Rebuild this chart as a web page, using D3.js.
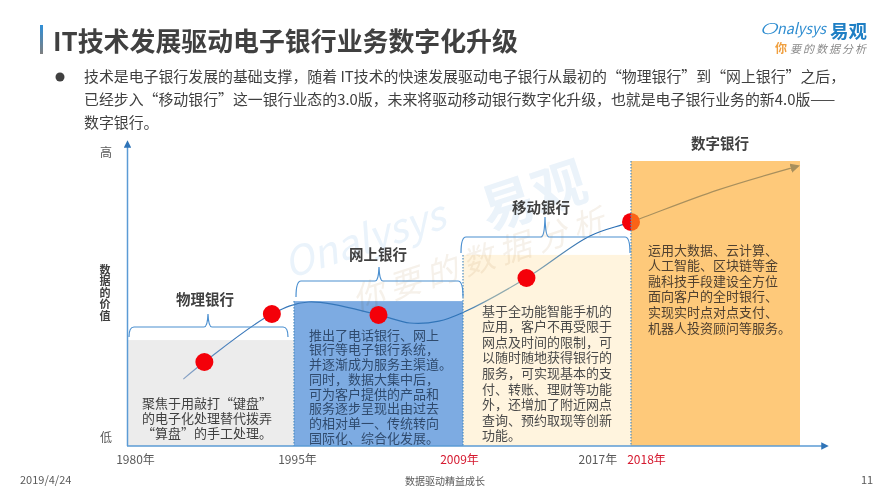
<!DOCTYPE html>
<html>
<head>
  <meta charset="utf-8">
  <title>IT技术发展驱动电子银行业务数字化升级</title>
  <script src="https://d3js.org/d3.v7.min.js"></script>
  <style>
    html, body { margin: 0; padding: 0; background: #fff; }
    svg { display: block; }
    text { font-family: "Noto Sans CJK SC", "Noto Sans", sans-serif; }
  </style>
</head>
<body>
<svg width="889" height="500"></svg>
<script>
  // chart values
  const stageNames = ["物理银行", "网上银行", "移动银行", "数字银行"];
  const stageEdges = [1980, 1995, 2009, 2018, 2027];
  const stageTops = [35.3, 48.3, 63.7, 95];
  const stageColors = ["#ececec", "#7dabe2", "#fff4de", "#fda522"];

  const tickYears = [1980, 1995, 2009, 2017, 2018];
  const tickLabels = ["1980年", "1995年", "2009年", "2017年", "2018年"];
  const tickColors = ["#595959", "#595959", "#d5182e", "#595959", "#d5182e"];
  const tickNudge = [7, 3, -4, -15, 15];

  const curveYears = [1985, 1986.9, 1993, 1996.2, 2002, 2004.6, 2007, 2009, 2012.4, 2015.8, 2018, 2022.6, 2026.9];
  const curveValues = [22.3, 28, 44, 48, 43.7, 41, 41.6, 44.5, 56, 70, 74.7, 85.3, 93.3];
  const dotYears = [1986.9, 1993, 2002, 2012.4, 2018];
  const dotValues = [28, 44, 43.7, 56, 74.7];

  const levelValues = [2.7, 97.7];
  const levelLabels = ["低", "高"];

  const headline = "IT技术发展驱动电子银行业务数字化升级";
  const intro = [
    "技术是电子银行发展的基础支撑，随着 IT技术的快速发展驱动电子银行从最初的“物理银行”到“网上银行”之后，",
    "已经步入“移动银行”这一银行业态的3.0版，未来将驱动移动银行数字化升级，也就是电子银行业务的新4.0版——",
    "数字银行。"
  ];
  const notes = [
    ["聚焦于用敲打“键盘”", "的电子化处理替代拨弄", "“算盘”的手工处理。"],
    ["推出了电话银行、网上", "银行等电子银行系统，", "并逐渐成为服务主渠道。", "同时，数据大集中后，", "可为客户提供的产品和", "服务逐步呈现出由过去", "的相对单一、传统转向", "国际化、综合化发展。"],
    ["基于全功能智能手机的", "应用，客户不再受限于", "网点及时间的限制，可", "以随时随地获得银行的", "服务，可实现基本的支", "付、转账、理财等功能", "外，还增加了附近网点", "查询、预约取现等创新", "功能。"],
    ["运用大数据、云计算、", "人工智能、区块链等金", "融科技手段建设全方位", "面向客户的全时银行、", "实现实时点对点支付、", "机器人投资顾问等服务。"]
  ];

  const svg = d3.select("svg");
  const defs = svg.append("defs");

  const x = d3.scaleLinear().domain(stageEdges).range([128, 294, 463, 631, 800]);
  const y = d3.scaleLinear().domain([0, 100]).range([446, 146]);

  // watermark goes first so the cream band can multiply over it
  const mark = svg.append("g").attr("transform", "translate(288,275) rotate(-18)");
  mark.append("text").text("Onalysys").attr("y", 4).attr("font-size", 40).attr("font-style", "italic")
    .attr("fill", "#eaf3fb");
  mark.append("text").text("易观").attr("x", 204).attr("y", 20).attr("font-size", 54).attr("font-weight", 700)
    .attr("fill", "#ebf3fa");
  mark.append("text").text("你要的数据分析").attr("x", 54).attr("y", 56).attr("font-size", 32)
    .attr("font-style", "italic").attr("letter-spacing", 6.5).attr("fill", "#f6f1ea");

  // first three stage bands
  const bands = stageNames.map((name, i) => ({
    name, i, x0: x(stageEdges[i]), x1: x(stageEdges[i + 1]), top: y(stageTops[i]), color: stageColors[i]
  }));

  svg.selectAll(".band").data(bands.slice(0, 3)).enter().append("rect")
    .attr("class", "band")
    .attr("x", d => d.x0).attr("y", d => d.top)
    .attr("width", d => d.x1 - d.x0).attr("height", d => y(0) - d.top)
    .attr("fill", d => d.color)
    .style("mix-blend-mode", "multiply");

  // growth curve
  const grad = defs.append("linearGradient").attr("id", "curveGrad")
    .attr("gradientUnits", "userSpaceOnUse")
    .attr("x1", x(1980)).attr("x2", x(2027)).attr("y1", 0).attr("y2", 0);
  [[0.08, "#8ea6c6"], [0.16, "#3a78ba"], [0.5, "#2f74b8"], [0.54, "#8fa9ae"], [0.6, "#8fa9ae"], [0.68, "#2a6fb5"], [1, "#2a6fb5"]]
    .forEach(s => grad.append("stop").attr("offset", s[0]).attr("stop-color", s[1]));

  defs.append("marker").attr("id", "curveHead").attr("viewBox", "0 0 10 10")
    .attr("refX", 8).attr("refY", 5).attr("markerWidth", 8).attr("markerHeight", 8)
    .attr("orient", "auto")
    .append("path").attr("d", "M0,0L10,5L0,10z").attr("fill", "#2a6fb5");

  const line = d3.line().x(d => x(d[0])).y(d => y(d[1])).curve(d3.curveCatmullRom.alpha(0.5));
  svg.append("path").datum(d3.zip(curveYears, curveValues))
    .attr("d", line)
    .attr("fill", "none")
    .attr("stroke", "url(#curveGrad)")
    .attr("stroke-width", 1.2)
    .attr("marker-end", "url(#curveHead)");

  svg.selectAll(".dot").data(d3.zip(dotYears, dotValues)).enter().append("circle")
    .attr("class", "dot")
    .attr("cx", d => x(d[0])).attr("cy", d => y(d[1])).attr("r", 9)
    .attr("fill", "#f40009");

  // the orange band sits over the curve, so it tints the last dot and arrow
  svg.append("rect").datum(bands[3])
    .attr("x", d => d.x0).attr("y", d => d.top)
    .attr("width", d => d.x1 - d.x0).attr("height", d => y(0) - d.top)
    .attr("fill", d => d.color).attr("fill-opacity", 0.6);

  // dotted stage edges
  svg.selectAll(".edge").data(bands.slice(1)).enter().append("line")
    .attr("class", "edge")
    .attr("x1", d => d.x0).attr("x2", d => d.x0)
    .attr("y1", d => d.top).attr("y2", y(0))
    .attr("stroke", "#4d8dc0").attr("stroke-width", 1.2).attr("stroke-dasharray", "1.5 1.5");

  // braces over the first three stages: left, right, middle, leg end, bar, tip
  function brace(b) {
    const [x0, x1, mid, leg, bar, tip] = b;
    const p = d3.path();
    p.moveTo(x0, leg);
    p.quadraticCurveTo(x0, bar, x0 + 5, bar);
    p.lineTo(mid - 4, bar);
    p.quadraticCurveTo(mid - 0.5, bar, mid, tip);
    p.quadraticCurveTo(mid + 0.5, bar, mid + 4, bar);
    p.lineTo(x1 - 5, bar);
    p.quadraticCurveTo(x1, bar, x1, leg);
    return p.toString();
  }
  const braceSpans = [[129, 288, 208, 337, 327, 314], [296, 463, 379, 297, 281, 267], [461, 630, 545, 253, 237, 217]];
  svg.selectAll(".brace").data(braceSpans).enter().append("path")
    .attr("class", "brace")
    .attr("d", brace)
    .attr("fill", "none").attr("stroke", "#4a8fd0").attr("stroke-width", 1.2);

  // axes
  const xAxis = svg.append("g").attr("transform", "translate(0," + y(0) + ")")
    .call(d3.axisBottom(x).tickValues(tickYears).tickSize(0).tickPadding(9)
      .tickFormat((d, i) => tickLabels[i]));
  xAxis.select(".domain").remove();
  xAxis.selectAll("text")
    .attr("dx", (d, i) => tickNudge[i])
    .attr("fill", (d, i) => tickColors[i])
    .attr("font-size", 12)
    .style("font-family", '"Noto Sans CJK SC"');

  const yAxis = svg.append("g").attr("transform", "translate(" + x(1980) + ",0)")
    .call(d3.axisLeft(y).tickValues(levelValues).tickSize(0).tickPadding(16)
      .tickFormat((d, i) => levelLabels[i]));
  yAxis.select(".domain").remove();
  yAxis.selectAll("text").attr("fill", "#595959").attr("font-size", 12)
    .style("font-family", '"Noto Sans CJK SC"');

  defs.append("marker").attr("id", "axisHead").attr("viewBox", "0 0 10 10")
    .attr("refX", 5).attr("refY", 5).attr("markerWidth", 5).attr("markerHeight", 5)
    .attr("orient", "auto")
    .append("path").attr("d", "M0,0L10,5L0,10z").attr("fill", "#2f74b8");

  svg.append("line").attr("x1", 127).attr("x2", 825).attr("y1", y(0)).attr("y2", y(0))
    .attr("stroke", "#5b9bd5").attr("stroke-width", 1.5).attr("marker-end", "url(#axisHead)");
  svg.append("line").attr("x1", 127.5).attr("x2", 127.5).attr("y1", y(0)).attr("y2", 144)
    .attr("stroke", "#5b9bd5").attr("stroke-width", 1.5).attr("marker-end", "url(#axisHead)");

  // vertical axis title
  svg.append("g").selectAll("text").data("数据的价值".split("")).enter().append("text")
    .attr("x", 105).attr("y", (d, i) => 274 + i * 11.4)
    .attr("text-anchor", "middle").attr("font-size", 11).attr("font-weight", 700)
    .attr("fill", "#404040").text(d => d);

  // stage titles
  const titlePos = [[205, 305], [378, 260], [541, 213], [720, 149]];
  svg.selectAll(".stage").data(stageNames).enter().append("text")
    .attr("class", "stage")
    .attr("x", (d, i) => titlePos[i][0]).attr("y", (d, i) => titlePos[i][1])
    .attr("text-anchor", "middle").attr("font-size", 14.5).attr("font-weight", 700)
    .attr("fill", "#404040").text(d => d);

  // stage notes
  const noteLayout = [
    { x: 207, y: 407.5, step: 15.3, anchor: "middle", fill: "#404040" },
    { x: 309, y: 339.5, step: 14.75, anchor: "start", fill: "#2f4a6d" },
    { x: 482, y: 315.5, step: 15.6, anchor: "start", fill: "#4a4a4a" },
    { x: 648, y: 254.5, step: 15.6, anchor: "start", fill: "#4f4030" }
  ];
  notes.forEach((lines, i) => {
    const l = noteLayout[i];
    svg.append("g").selectAll("text").data(lines).enter().append("text")
      .attr("x", l.x).attr("y", (d, j) => l.y + j * l.step)
      .attr("text-anchor", l.anchor).attr("font-size", 13).attr("fill", l.fill)
      .text(d => d);
  });

  // header
  const barGrad = defs.append("linearGradient").attr("id", "barGrad")
    .attr("x1", 0).attr("x2", 0).attr("y1", 0).attr("y2", 1);
  barGrad.append("stop").attr("offset", 0).attr("stop-color", "#2f8fd8");
  barGrad.append("stop").attr("offset", 1).attr("stop-color", "#7f7f7f");
  svg.append("rect").attr("x", 40).attr("y", 25).attr("width", 3).attr("height", 29).attr("fill", "url(#barGrad)");
  svg.append("text").attr("x", 53).attr("y", 51).attr("font-size", 25.9).attr("font-weight", 700)
    .attr("fill", "#404040").text(headline);

  svg.append("circle").attr("cx", 60).attr("cy", 77).attr("r", 4.5).attr("fill", "#404040");
  svg.selectAll(".intro").data(intro).enter().append("text")
    .attr("class", "intro")
    .attr("x", 84).attr("y", (d, i) => 82 + i * 23)
    .attr("font-size", 14.9).attr("fill", "#404040").text(d => d);

  // logo
  svg.append("text").attr("x", 759).attr("y", 34).attr("font-size", 15).attr("font-style", "italic")
    .attr("font-weight", 300).attr("textLength", 18).attr("lengthAdjust", "spacingAndGlyphs")
    .attr("fill", "#2d8cd0").text("O");
  svg.append("text").attr("x", 777).attr("y", 34).attr("font-size", 15).attr("font-style", "italic")
    .attr("textLength", 49).attr("lengthAdjust", "spacingAndGlyphs")
    .attr("fill", "#2d8cd0").text("nalysys");
  svg.append("text").attr("x", 830).attr("y", 38).attr("font-size", 18.5).attr("font-weight", 700)
    .attr("fill", "#1f7fc4").text("易观");
  svg.append("text").attr("x", 775).attr("y", 53).attr("font-size", 12).attr("font-weight", 700)
    .attr("fill", "#f0a040").text("你");
  svg.append("text").attr("x", 790).attr("y", 53).attr("font-size", 11).attr("font-style", "italic")
    .attr("letter-spacing", 2).attr("fill", "#8a8a8a").text("要的数据分析");

  // footer
  svg.append("text").attr("x", 20).attr("y", 484).attr("font-size", 11).attr("fill", "#595959").text("2019/4/24");
  svg.append("text").attr("x", 445).attr("y", 485).attr("text-anchor", "middle").attr("font-size", 10).attr("fill", "#595959").text("数据驱动精益成长");
  svg.append("text").attr("x", 861).attr("y", 484).attr("font-size", 11).attr("fill", "#595959").text("11");
</script>
</body>
</html>
